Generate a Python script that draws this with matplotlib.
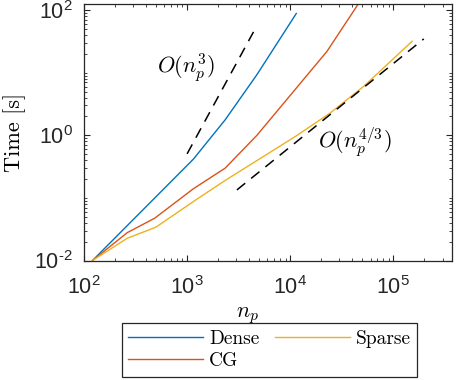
import matplotlib
matplotlib.use('Agg')
import matplotlib.pyplot as plt
import numpy as np
from matplotlib.ticker import FixedLocator, LogLocator, NullFormatter

plt.rcParams['mathtext.fontset'] = 'custom'
plt.rcParams['mathtext.rm'] = 'Liberation Sans'
plt.rcParams['mathtext.it'] = 'Liberation Sans:italic'
plt.rcParams['font.family'] = 'Liberation Sans'

# timings
dense_n = [121, 1150, 2340, 4750, 11430]
dense_t = [0.01, 0.416, 1.77, 9.3, 88]
cg_n = [121, 263, 484, 1150, 2340, 4750, 22700, 50000]
cg_t = [0.01, 0.0279, 0.0473, 0.14, 0.299, 1.0, 21.9, 157]
sparse_n = [121, 263, 497, 1242, 2340, 11200, 24400, 51500, 151700]
sparse_t = [0.01, 0.0227, 0.034, 0.0953, 0.19, 0.957, 2.27, 6.04, 31.7]

# reference slopes
cube_n = [1000, 4400]
cube_t = [0.506, 44.8]
fourthird_n = [3037, 197000]
fourthird_t = [0.134, 34.6]

labels = ['Dense', 'CG', 'Sparse']
colors = ['#0072BD', '#D95319', '#EDB120']
xticks = [1e2, 1e3, 1e4, 1e5]
xticklabels = [r'$10^{2}$', r'$10^{3}$', r'$10^{4}$', r'$10^{5}$']
yticks = [1e-2, 1e0, 1e2]
yticklabels = ['$10^{\u2010 2}$', r'$10^{0}$', r'$10^{2}$']

fig = plt.figure(figsize=(4.57, 3.80), dpi=100)
ax = fig.add_axes([84/457, 1-260.5/380, 368/457, 256.5/380])

for n, t, lab, c in zip([dense_n, cg_n, sparse_n], [dense_t, cg_t, sparse_t], labels, colors):
    ax.plot(n, t, color=c, lw=1.0, label=lab)

ax.plot(cube_n, cube_t, color='k', lw=1.1, dashes=(7, 5))
ax.plot(fourthird_n, fourthird_t, color='k', lw=1.1, dashes=(7, 5))

ax.set_xscale('log')
ax.set_yscale('log')
ax.set_xlim(100, 3.7e5)
ax.set_ylim(0.01, 125)

ax.xaxis.set_major_locator(FixedLocator(xticks))
ax.yaxis.set_major_locator(FixedLocator(yticks))
ax.xaxis.set_minor_locator(LogLocator(base=10, subs=np.arange(1, 10), numticks=20))
ax.yaxis.set_minor_locator(LogLocator(base=10, subs=np.arange(1, 10), numticks=20))
ax.xaxis.set_minor_formatter(NullFormatter())
ax.yaxis.set_minor_formatter(NullFormatter())
ax.set_xticklabels(xticklabels)
ax.set_yticklabels(yticklabels)

ax.tick_params(which='both', direction='in', top=True, right=True, colors='#262626', labelsize=15.5)
ax.tick_params(which='major', length=4, width=0.8)
ax.tick_params(which='minor', length=2, width=0.6)
ax.tick_params(axis='x', pad=11)
ax.tick_params(axis='y', pad=8)
for s in ax.spines.values():
    s.set_color('#262626')
    s.set_linewidth(0.9)

ax.set_ylabel('Time [s]', fontsize=16, fontfamily='cmr10')
ax.yaxis.set_label_coords((26-84)/368, 0.5)
ax.set_xlabel(r'$n_p$', fontsize=16, math_fontfamily='cm')
ax.xaxis.set_label_coords((248-84)/368, -0.175)

ax.text(980, 12, r'$O(n_p^3)$', fontsize=16, math_fontfamily='cm', ha='center', va='center')
ax.text(42700, 0.76, r'$O(n_p^{4/3})$', fontsize=16, math_fontfamily='cm', ha='center', va='center')

leg = fig.legend(loc='center', bbox_to_anchor=(269.5/457, 1-350/380), ncol=2,
                 prop={'family': 'cmr10', 'size': 14},
                 handlelength=3.85, columnspacing=0.8, handletextpad=0.3, labelspacing=0.2,
                 fancybox=False, framealpha=1, edgecolor='#262626', borderpad=0.35)
leg.get_frame().set_linewidth(0.9)

fig.savefig('out.png', dpi=100)
